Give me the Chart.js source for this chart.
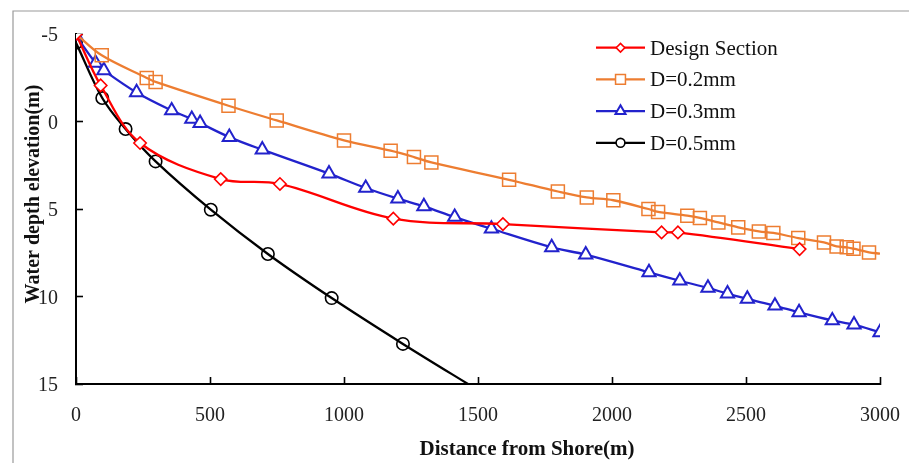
<!DOCTYPE html>
<html><head><meta charset="utf-8">
<script src="https://cdn.jsdelivr.net/npm/chart.js@4.4.1/dist/chart.umd.min.js"></script>
<style>html,body{margin:0;padding:0;background:#fff;}#wrap{position:relative;width:909px;height:463px;}</style>
</head><body><div id="wrap"><canvas id="c" width="909" height="463"></canvas></div>
<script>
const seriesNames = ['Design Section', 'D=0.2mm', 'D=0.3mm', 'D=0.5mm'];
const xTitle = 'Distance from Shore(m)';
const yTitle = 'Water depth elevation(m)';

const designX = [0, 92, 239, 540, 761, 1184, 1593, 2185, 2246, 2700];
const designY = [-5, -2.06, 1.23, 3.29, 3.57, 5.55, 5.86, 6.34, 6.34, 7.29];

const d02X = [0, 96, 264, 297, 569, 749, 1000, 1174, 1261, 1326, 1616, 1798, 1906, 2005, 2136, 2172, 2281, 2328, 2397, 2471, 2548, 2602, 2695, 2791, 2838, 2876, 2901, 2959, 3000];
const d02Y = [-5, -3.78, -2.49, -2.26, -0.9, -0.06, 1.08, 1.67, 2.03, 2.34, 3.33, 4.0, 4.34, 4.5, 5.0, 5.17, 5.38, 5.51, 5.77, 6.05, 6.28, 6.37, 6.66, 6.91, 7.14, 7.19, 7.27, 7.48, 7.55];

const d03X = [0, 73, 104, 226, 357, 432, 463, 572, 695, 944, 1081, 1201, 1298, 1413, 1550, 1775, 1902, 2138, 2253, 2358, 2431, 2505, 2608, 2698, 2822, 2903, 3000];
const d03Y = [-4.9, -3.34, -2.92, -1.66, -0.63, -0.14, 0.09, 0.89, 1.61, 2.98, 3.8, 4.41, 4.85, 5.46, 6.13, 7.19, 7.61, 8.62, 9.1, 9.51, 9.84, 10.14, 10.53, 10.91, 11.37, 11.61, 12.05];

const d05X = [0, 98, 185, 297, 503, 716, 954, 1220, 1500];
const d05Y = [-4.5, -1.34, 0.43, 2.28, 5.04, 7.57, 10.09, 12.71, 15.35];

const xTicks = [0, 500, 1000, 1500, 2000, 2500, 3000];
const yTicks = [-5, 0, 5, 10, 15];

const pts = (xs, ys) => xs.map((x, i) => ({x: x, y: ys[i]}));

const colors = ['#FF0000', '#ED7D31', '#2222CC', '#000000'];
const styles = [
  {pointStyle: 'rectRot', radius: 6.2, bw: 1.6, fill: '#ffffff', lr: 4.3},
  {pointStyle: 'rect', radius: 9.2, bw: 1.5, fill: 'rgba(0,0,0,0)', lr: 7},
  {pointStyle: 'triangle', radius: 7.6, bw: 2, fill: '#ffffff', lr: 5.8},
  {pointStyle: 'circle', radius: 6.2, bw: 1.6, fill: 'rgba(0,0,0,0)', lr: 4.4}
];
const dataSets = [pts(designX, designY), pts(d02X, d02Y), pts(d03X, d03Y), pts(d05X, d05Y)];

const datasets = dataSets.map((d, i) => ({
  label: seriesNames[i],
  data: d,
  borderColor: colors[i],
  backgroundColor: colors[i],
  borderWidth: 2.3,
  tension: 0.35,
  pointStyle: styles[i].pointStyle,
  pointRadius: (ctx) => {
    if (i === 1 && (ctx.dataIndex === 0 || ctx.dataIndex === d.length - 1)) return 0;
    const p = d[ctx.dataIndex];
    if (p && p.y > 15) return 0;
    return styles[i].radius;
  },
  pointBorderWidth: styles[i].bw,
  pointBorderColor: colors[i],
  pointBackgroundColor: styles[i].fill,
  pointHoverRadius: styles[i].radius
}));

const serif = '"Liberation Serif", "Times New Roman", serif';

const decorPlugin = {
  id: 'decor',
  afterDraw(chart) {
    const ctx = chart.ctx;
    ctx.save();
    ctx.strokeStyle = '#9a9a9a';
    ctx.lineWidth = 1.2;
    ctx.beginPath();
    ctx.moveTo(13, 463);
    ctx.lineTo(13, 11);
    ctx.lineTo(909, 11);
    ctx.stroke();
    for (let i = 0; i < seriesNames.length; i++) {
      const y = 47.7 + i * 31.7;
      ctx.strokeStyle = colors[i];
      ctx.lineWidth = 2.3;
      ctx.beginPath();
      ctx.moveTo(596, y);
      ctx.lineTo(645, y);
      ctx.stroke();
      ctx.fillStyle = styles[i].fill === 'rgba(0,0,0,0)' ? '#ffffff' : styles[i].fill;
      ctx.strokeStyle = colors[i];
      ctx.lineWidth = styles[i].bw;
      Chart.helpers.drawPoint(ctx, {pointStyle: styles[i].pointStyle, radius: styles[i].lr, rotation: 0, borderWidth: styles[i].bw}, 620.5, y);
      ctx.fillStyle = '#111';
      ctx.font = '21px ' + serif;
      ctx.textAlign = 'left';
      ctx.textBaseline = 'alphabetic';
      ctx.fillText(seriesNames[i], 650, y + 6.8);
    }
    ctx.fillStyle = '#111';
    ctx.font = 'bold 21px ' + serif;
    ctx.textAlign = 'center';
    ctx.textBaseline = 'alphabetic';
    ctx.fillText(xTitle, 527, 455);
    ctx.translate(33.5, 194);
    ctx.rotate(-Math.PI / 2);
    ctx.font = 'bold 20px ' + serif;
    ctx.textBaseline = 'middle';
    ctx.fillText(yTitle, 0, 0);
    ctx.restore();
  }
};

const plain = (v) => String(v);

new Chart(document.getElementById('c'), {
  type: 'line',
  data: {datasets: datasets},
  plugins: [decorPlugin],
  options: {
    responsive: false,
    devicePixelRatio: 1,
    animation: false,
    layout: {padding: {left: 0, top: 34, right: 29, bottom: 0}},
    plugins: {legend: {display: false}, tooltip: {enabled: false}},
    scales: {
      x: {
        type: 'linear', min: 0, max: 3000,
        afterFit: (s) => { s.height = 79; s.paddingLeft = 0; s.paddingRight = 0; },
        afterBuildTicks: (s) => { s.ticks = xTicks.map(v => ({value: v})); },
        ticks: {padding: 27, maxRotation: 0, color: '#222', font: {family: serif, size: 20}, callback: plain},
        grid: {display: true, drawOnChartArea: false, drawTicks: true, tickLength: -7, tickWidth: 1.6, tickColor: '#000'},
        border: {display: true, color: '#000', width: 2}
      },
      y: {
        type: 'linear', min: -5, max: 15, reverse: true,
        afterFit: (s) => { s.width = 76; s.paddingTop = 0; s.paddingBottom = 0; },
        afterBuildTicks: (s) => { s.ticks = yTicks.map(v => ({value: v})); },
        ticks: {padding: 25, labelOffset: 2, color: '#222', font: {family: serif, size: 20}, callback: plain},
        grid: {display: true, drawOnChartArea: false, drawTicks: true, tickLength: -7, tickWidth: 1.6, tickColor: '#000'},
        border: {display: true, color: '#000', width: 2}
      }
    }
  }
});
</script></body></html>
